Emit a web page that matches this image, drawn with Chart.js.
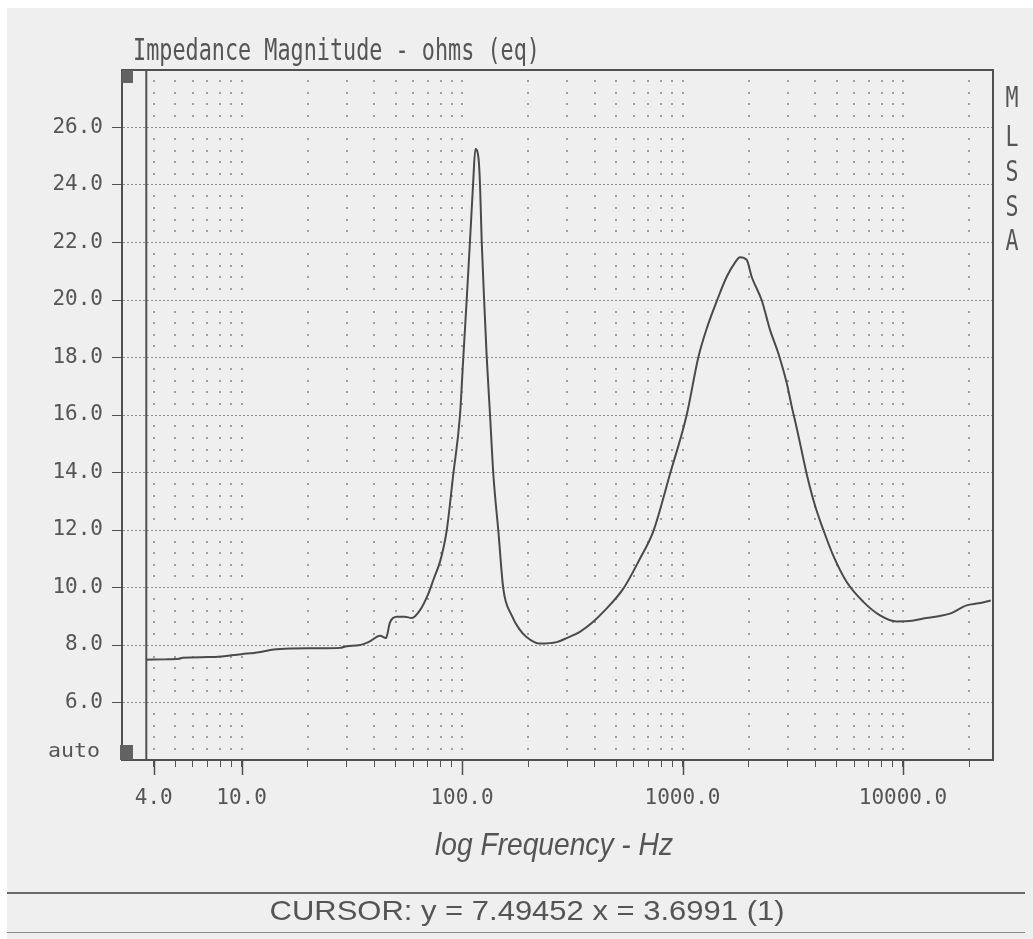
<!DOCTYPE html>
<html><head><meta charset="utf-8">
<script src="https://cdn.jsdelivr.net/npm/chart.js@4.4.1/dist/chart.umd.min.js"></script>
<style>html,body{margin:0;padding:0;background:#fff;overflow:hidden}canvas{display:block}</style>
</head><body>
<canvas id="c" width="1033" height="939"></canvas>
<script>
// ---- data ----
const freqHz = [3.6991, 4.5, 5.2, 5.4, 7.0, 8.1, 9.0, 10.0, 12.0, 14.0, 17.0, 20.0, 24.0, 28.0, 30.0, 34.0, 38.0, 42.5, 45.2, 47.1, 50.6, 55.0, 59.2, 64.6, 70.3, 74.1, 79.5, 82.5, 85.3, 91.3, 97.9, 101.4, 105, 108.7, 112.2, 115, 118.9, 120.7, 122.8, 126, 129.4, 134, 138.7, 146.2, 153.9, 168, 182, 196, 225.7, 268.7, 300, 342.5, 390, 437.5, 539, 641, 737, 877, 1044, 1180, 1300, 1430, 1585, 1730, 1823, 1954, 2061, 2287, 2494, 2719, 2970, 3128, 3296, 3472, 3658, 3990, 4355, 4834, 5557, 6612, 7870, 9355, 11000, 12350, 14500, 16330, 19440, 22000, 25000];
const impedanceOhms = [7.49, 7.50, 7.52, 7.56, 7.58, 7.60, 7.64, 7.68, 7.75, 7.84, 7.88, 7.89, 7.89, 7.90, 7.96, 7.99, 8.12, 8.32, 8.24, 8.78, 8.98, 8.98, 8.94, 9.22, 9.78, 10.26, 10.90, 11.40, 12.00, 13.94, 15.99, 18.03, 20.0, 22.06, 24.0, 25.25, 24.9, 24.0, 22.07, 20.0, 18.03, 16.0, 13.94, 11.95, 9.96, 9.03, 8.55, 8.28, 8.05, 8.10, 8.25, 8.46, 8.78, 9.15, 9.96, 11.0, 11.95, 13.94, 15.99, 18.01, 19.1, 19.96, 20.8, 21.3, 21.49, 21.4, 20.8, 19.99, 18.96, 18.15, 17.11, 16.3, 15.55, 14.75, 13.95, 12.85, 12.0, 11.1, 10.19, 9.5, 9.03, 8.82, 8.84, 8.92, 9.0, 9.09, 9.38, 9.45, 9.55];

const xAxisMin = 2.87;
const xAxisMax = 25600;
const xTickValues = [4,5,6,7,8,9,10,20,30,40,50,60,70,80,90,100,200,300,400,500,600,700,800,900,1000,2000,3000,4000,5000,6000,7000,8000,9000,10000,20000];
const xMajorTicks = [4, 10, 100, 1000, 10000];
const xMajorLabels = ['4.0', '10.0', '100.0', '1000.0', '10000.0'];
const yTickValues = [4, 6, 8, 10, 12, 14, 16, 18, 20, 22, 24, 26, 28];
const yTickLabels = ['', '6.0', '8.0', '10.0', '12.0', '14.0', '16.0', '18.0', '20.0', '22.0', '24.0', '26.0', ''];
const yDotStep = 0.4;
const cursorX = 3.6991;

const chartTitle = 'Impedance Magnitude - ohms (eq)';
const xAxisTitle = 'log Frequency - Hz';
const cursorText = 'CURSOR: y = 7.49452 x = 3.6991 (1)';
const autoText = 'auto';
const sideLetters = ['M', 'L', 'S', 'S', 'A'];

// ---- styles ----
const INK = '#505050';
const TEXT = '#555555';
const GRID = '#8e8e8e';
const DOT = '#9e9e9e';

function fitText(ctx, text, font, x, y, width, align) {
  ctx.save();
  ctx.font = font;
  ctx.textBaseline = 'alphabetic';
  ctx.textAlign = 'left';
  const w = ctx.measureText(text).width;
  const s = width ? width / w : 1;
  let x0 = x;
  if (align === 'center') x0 = x - (w * s) / 2;
  ctx.translate(x0, y);
  ctx.scale(s, 1);
  ctx.fillText(text, 0, 0);
  ctx.restore();
}

const framePlugin = {
  id: 'framePlugin',
  beforeDraw(chart) {
    const { ctx, width, height } = chart;
    ctx.save();
    ctx.fillStyle = '#ffffff';
    ctx.fillRect(0, 0, width, height);
    ctx.fillStyle = '#efefef';
    ctx.fillRect(7, 8, width - 7, height - 8);
    ctx.restore();
  },
  beforeDatasetsDraw(chart) {
    const { ctx, scales: { x, y } } = chart;
    const rows = [];
    for (let v = yTickValues[0] + yDotStep; v < yTickValues[yTickValues.length - 1] - 1e-6; v += yDotStep) {
      const r = Math.round(v * 10) / 10;
      if (Math.abs(r / 2 - Math.round(r / 2)) > 1e-6) rows.push(r);
    }
    ctx.save();
    ctx.fillStyle = DOT;
    for (const f of xTickValues) {
      const px = Math.round(x.getPixelForValue(f));
      for (const r of rows) {
        const py = Math.round(y.getPixelForValue(r));
        ctx.fillRect(px - 1, py - 1, 2, 2);
      }
    }
    // cursor line
    const cx = x.getPixelForValue(cursorX);
    ctx.strokeStyle = INK;
    ctx.lineWidth = 2;
    ctx.beginPath();
    ctx.moveTo(cx, chart.chartArea.top);
    ctx.lineTo(cx, chart.chartArea.bottom);
    ctx.stroke();
    ctx.restore();
  },
  afterDraw(chart) {
    const { ctx, chartArea: a, scales: { x, y } } = chart;
    ctx.save();
    ctx.strokeStyle = INK;
    ctx.lineWidth = 2;
    ctx.beginPath();
    ctx.moveTo(a.left - 1, a.top);
    ctx.lineTo(a.right, a.top);
    ctx.lineTo(a.right, a.bottom);
    ctx.stroke();
    // longer major ticks
    ctx.lineWidth = 1.5;
    for (const f of xMajorTicks) {
      const px = Math.round(x.getPixelForValue(f)) + 0.5;
      ctx.beginPath();
      ctx.moveTo(px, a.bottom);
      ctx.lineTo(px, a.bottom + 15);
      ctx.stroke();
    }
    // small squares on the left frame
    ctx.fillStyle = '#626262';
    ctx.fillRect(a.left, a.top, 11, 13);
    ctx.fillRect(a.left - 2, a.bottom - 15, 13, 15);
    // separator lines at the bottom
    ctx.strokeStyle = '#6a6a6a';
    ctx.lineWidth = 2;
    ctx.beginPath(); ctx.moveTo(7, 893); ctx.lineTo(1025, 893); ctx.stroke();
    ctx.lineWidth = 1;
    ctx.strokeStyle = '#8a8a8a';
    ctx.beginPath(); ctx.moveTo(7, 932.5); ctx.lineTo(1025, 932.5); ctx.stroke();

    ctx.fillStyle = TEXT;
    fitText(ctx, chartTitle, '31px "DejaVu Sans Mono"', 133, 60, 407, 'left');
    fitText(ctx, autoText, '20px "DejaVu Sans Mono"', 48, 757, 52, 'left');
    fitText(ctx, xAxisTitle, 'italic 32px "Liberation Sans"', 554, 855, 238, 'center');
    fitText(ctx, cursorText, '28px "Liberation Sans"', 527, 920, 515, 'center');
    const letterY = [107, 146, 181, 216, 250];
    sideLetters.forEach((L, i) => fitText(ctx, L, '28px "DejaVu Sans Mono"', 1012, letterY[i], 13, 'center'));
    ctx.restore();
  }
};

new Chart(document.getElementById('c'), {
  type: 'line',
  data: {
    datasets: [{
      data: freqHz.map((f, i) => ({ x: f, y: impedanceOhms[i] })),
      borderColor: '#4a4a4a',
      borderWidth: 2,
      pointRadius: 0,
      cubicInterpolationMode: 'monotone',
      fill: false
    }]
  },
  options: {
    responsive: false,
    animation: false,
    devicePixelRatio: 1,
    layout: { padding: { top: 70, right: 40, left: 0, bottom: 0 } },
    plugins: { legend: { display: false }, tooltip: { enabled: false }, title: { display: false } },
    scales: {
      x: {
        type: 'logarithmic',
        min: xAxisMin,
        max: xAxisMax,
        afterBuildTicks: s => { s.ticks = xTickValues.map(v => ({ value: v })); },
        afterFit: s => { s.height = 179; },
        ticks: {
          autoSkip: false, maxRotation: 0, minRotation: 0,
          padding: 19,
          color: TEXT,
          font: { family: 'DejaVu Sans Mono', size: 21 },
          callback: v => { const i = xMajorTicks.indexOf(v); return i >= 0 ? xMajorLabels[i] : ''; }
        },
        grid: { drawOnChartArea: false, drawTicks: true, tickLength: 7, tickColor: INK, tickWidth: 1 },
        border: { display: true, color: INK, width: 2 }
      },
      y: {
        min: yTickValues[0],
        max: yTickValues[yTickValues.length - 1],
        afterBuildTicks: s => { s.ticks = yTickValues.map(v => ({ value: v })); },
        afterFit: s => { s.width = 122; },
        ticks: {
          padding: 9,
          color: TEXT,
          font: { family: 'DejaVu Sans Mono', size: 21 },
          callback: (v, i) => yTickLabels[yTickValues.indexOf(v)]
        },
        grid: {
          color: c => (c.tick && (c.tick.value === 4 || c.tick.value === 28)) ? 'rgba(0,0,0,0)' : GRID,
          tickColor: c => (c.tick && (c.tick.value === 4 || c.tick.value === 28)) ? 'rgba(0,0,0,0)' : INK,
          tickLength: 10,
          lineWidth: 1
        },
        border: { display: true, color: INK, width: 2, dash: [2, 2] }
      }
    }
  },
  plugins: [framePlugin]
});
</script>
</body></html>
